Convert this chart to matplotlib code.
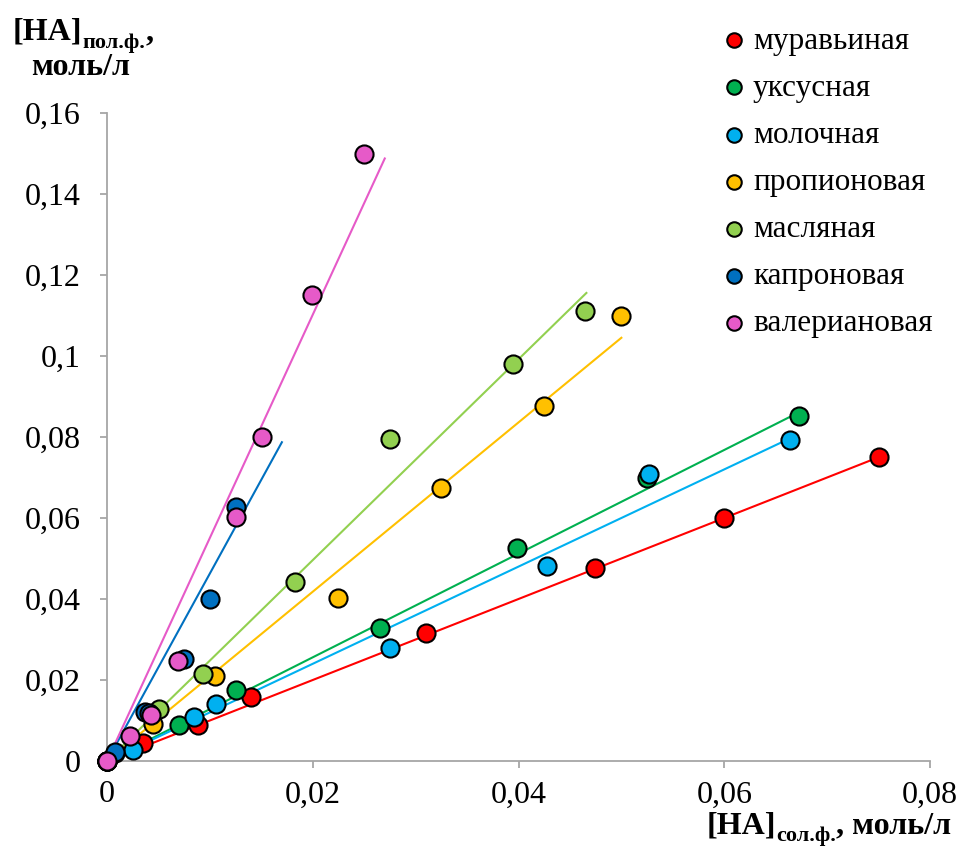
import numpy as np
import matplotlib.pyplot as plt
from matplotlib.ticker import MultipleLocator, FuncFormatter

plt.rcParams['font.family'] = ['Liberation Serif', 'DejaVu Serif']

#%% данные
names = ["муравьиная", "уксусная", "молочная", "пропионовая",
         "масляная", "капроновая", "валериановая"]
colors = ["#FF0000", "#00B050", "#00B0F0", "#FFC000",
          "#92D050", "#0070C0", "#E65AC8"]

x_formic = [0, 0.0035, 0.0088, 0.014, 0.031, 0.0474, 0.060, 0.075]
y_formic = [0, 0.0045, 0.0090, 0.0157, 0.0316, 0.0477, 0.060, 0.075]

x_acetic = [0, 0.0008, 0.0070, 0.0125, 0.0265, 0.0399, 0.0525, 0.0673]
y_acetic = [0, 0.0020, 0.0090, 0.0175, 0.0328, 0.0526, 0.0700, 0.0852]

x_lactic = [0, 0.0025, 0.0085, 0.0106, 0.0275, 0.0428, 0.0527, 0.0664]
y_lactic = [0, 0.0028, 0.0108, 0.0141, 0.0279, 0.0481, 0.0709, 0.0793]

x_propionic = [0, 0.0045, 0.0105, 0.0225, 0.0325, 0.0425, 0.050]
y_propionic = [0, 0.0091, 0.0210, 0.0402, 0.0674, 0.0877, 0.110]

x_butyric = [0, 0.0051, 0.0093, 0.0183, 0.0275, 0.0395, 0.0465]
y_butyric = [0, 0.0128, 0.0214, 0.0442, 0.0795, 0.0980, 0.111]

x_caproic = [0, 0.0008, 0.0037, 0.0041, 0.0075, 0.0100, 0.0125]
y_caproic = [0, 0.0022, 0.0121, 0.0118, 0.0253, 0.0401, 0.0626]

x_valeric = [0, 0.0022, 0.0043, 0.0069, 0.0125, 0.0151, 0.0199, 0.025]
y_valeric = [0, 0.0062, 0.0113, 0.0247, 0.0602, 0.0800, 0.1150, 0.150]

# линии тренда: наклон и правая граница по x
trend_slope = [1.00, 1.28, 1.20, 2.09, 2.48, 4.63, 5.51]
trend_xmax = [0.0750, 0.0673, 0.0664, 0.0500, 0.0466, 0.0170, 0.0270]

xs = [x_formic, x_acetic, x_lactic, x_propionic, x_butyric, x_caproic, x_valeric]
ys = [y_formic, y_acetic, y_lactic, y_propionic, y_butyric, y_caproic, y_valeric]

#%%
fig = plt.figure(figsize=(9.6, 8.68), dpi=100)
ax = fig.add_axes([107 / 960, 1 - 761 / 868, 823 / 960, 648 / 868])

for k in range(len(names)):
    xl = np.array([0, trend_xmax[k]])
    ax.plot(xl, trend_slope[k] * xl, color=colors[k], linewidth=1.5, zorder=2)

for k in range(len(names)):
    ax.scatter(xs[k], ys[k], s=170, color=colors[k], edgecolors="black",
               linewidths=1.5, zorder=3 + k, clip_on=False, label=names[k])

ax.set_xlim(0, 0.08)
ax.set_ylim(0, 0.16)
ax.xaxis.set_major_locator(MultipleLocator(0.02))
ax.yaxis.set_major_locator(MultipleLocator(0.02))
fmt = FuncFormatter(lambda v, p: f"{v:g}".replace(".", ","))
ax.xaxis.set_major_formatter(fmt)
ax.yaxis.set_major_formatter(fmt)

for s in ["top", "right"]:
    ax.spines[s].set_visible(False)
for s in ["left", "bottom"]:
    ax.spines[s].set_color("#A6A6A6")
    ax.spines[s].set_linewidth(1.3)
ax.tick_params(axis="both", which="major", direction="out", length=5, width=1.3,
               color="#A6A6A6", labelsize=23, labelcolor="black")
ax.tick_params(axis="y", pad=14)
ax.tick_params(axis="x", pad=9)

leg = ax.legend(loc="upper left", bbox_to_anchor=(703 / 960, 1 - 14 / 868),
                bbox_transform=fig.transFigure, frameon=False, fontsize=22.5,
                handletextpad=0.0, labelspacing=0.58, markerscale=0.8,
                borderaxespad=0, handlelength=1.2)


# подписи осей: [HA] + нижний индекс, собираются по кускам
def label_with_sub(x0, y0, sub, tail):
    t1 = fig.text(x0, y0, "[HA]", fontsize=23, fontweight="bold",
                  ha="left", va="baseline")
    t2 = ax.annotate(sub, xy=(1, 0), xycoords=t1, xytext=(0, -4),
                     textcoords="offset points", fontsize=16, fontweight="bold",
                     ha="left", va="bottom", annotation_clip=False)
    ax.annotate(tail, xy=(1, 0), xycoords=t2, xytext=(0, 4),
                textcoords="offset points", fontsize=23, fontweight="bold",
                ha="left", va="bottom", annotation_clip=False)


label_with_sub(13 / 960, 1 - 40 / 868, "пол.ф.", ",")
fig.text(81 / 960, 1 - 75 / 868, "моль/л", fontsize=23, fontweight="bold",
         ha="center", va="baseline")
label_with_sub(707 / 960, 1 - 833 / 868, "сол.ф.", ", моль/л")

plt.savefig("out.png", dpi=100)
